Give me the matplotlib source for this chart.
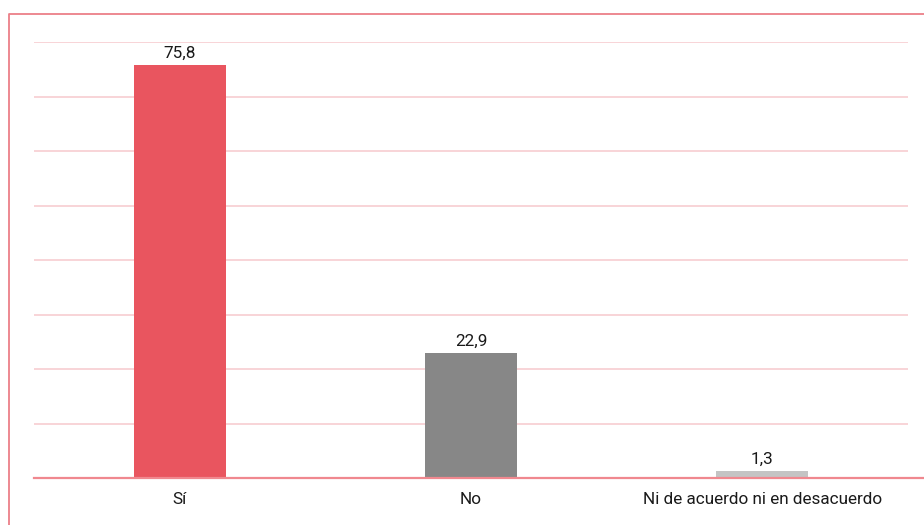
import matplotlib
matplotlib.use("Agg")
from matplotlib import pyplot as plt
from matplotlib.lines import Line2D

# datos
categorias = ["Sí", "No", "Ni de acuerdo ni en desacuerdo"]
valores = [75.8, 22.9, 1.3]
etiquetas = ["75,8", "22,9", "1,3"]
colores = ["#E9555F", "#878787", "#C4C4C4"]

plt.rcParams['font.family'] = ['Roboto', 'DejaVu Sans']

fig = plt.figure(figsize=(9.24, 5.25), dpi=100)
ax = fig.add_axes([34/924, 1 - 478/525, 874/924, 436/525])

x = range(len(categorias))
ax.bar(x, valores, width=0.315, color=colores, zorder=3)
for xi, v, t in zip(x, valores, etiquetas):
    ax.annotate(t, (xi, v), xytext=(0, 3), textcoords="offset points",
                ha="center", va="bottom", fontsize=12.3, color="#1a1a1a")

ax.set_xlim(-0.5, 2.5)
ax.set_ylim(0, 80)
ax.set_yticks(range(10, 90, 10))
ax.yaxis.grid(True, color="#F7CDD1", linewidth=1.2, zorder=0)
ax.tick_params(axis="y", left=False, labelleft=False)
ax.set_xticks(list(x))
ax.set_xticklabels(categorias, fontsize=12.3, color="#1a1a1a")
ax.tick_params(axis="x", length=0, pad=10)
for s in ax.spines.values():
    s.set_visible(False)

# linea base y marco
fig.add_artist(Line2D([34/924, 1], [1 - 478/525] * 2, color="#F0888F", linewidth=1.6))
fig.add_artist(Line2D([8.5/924, 8.5/924, 1], [0, 1 - 13.5/525, 1 - 13.5/525],
                      color="#EC7F88", linewidth=1.3))

fig.savefig("out.png", dpi=100)
